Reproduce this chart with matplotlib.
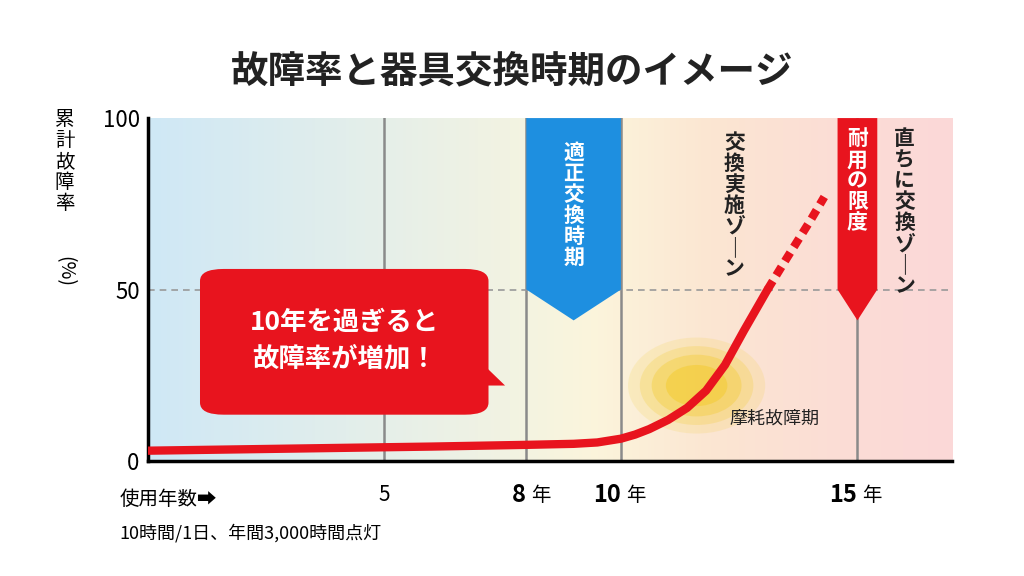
import matplotlib.pyplot as plt
import numpy as np
from matplotlib.patches import Polygon, FancyBboxPatch, Ellipse
from matplotlib.colors import LinearSegmentedColormap

plt.rcParams['font.family'] = ['Noto Sans CJK JP', 'DejaVu Sans']

# data
years_solid = [0, 2, 4, 6, 8, 9, 9.5, 10, 10.3, 10.6, 11, 11.4, 11.8, 12.2, 12.6, 13.1]
rate_solid = [3.0, 3.4, 3.8, 4.2, 4.7, 5.0, 5.4, 6.5, 7.7, 9.3, 12.0, 15.5, 20.5, 28.0, 38.0, 50.0]
years_dot = [13.1, 13.5, 14.0, 14.3]
rate_dot = [50.0, 59.0, 70.0, 77.0]
xticks = [5, 8, 10, 15]
RED = '#e8141e'
BLUE = '#1e8fe0'

fig = plt.figure(figsize=(10.24, 5.76), dpi=100)
ax = fig.add_axes([0.1445, 0.1997, 0.7852, 0.5953])
ax.set_xlim(0, 17)
ax.set_ylim(0, 100)

# background gradient
cmap = LinearSegmentedColormap.from_list('bg', [
    (0.0, '#cfe8f6'), (0.45, '#f2f3e2'), (0.55, '#fbf5dc'),
    (0.7, '#fbe6d2'), (0.88, '#fbdcd6'), (1.0, '#fbd8d8')])
ax.imshow(np.linspace(0, 1, 256)[None, :], extent=[0, 17, 0, 100], aspect='auto',
          cmap=cmap, zorder=0)

for x in xticks:
    ax.axvline(x, color='#8a8a8a', lw=1.8, zorder=1)
ax.axhline(50, color='#999999', lw=1.2, ls=(0, (4, 3)), zorder=1)

# wear glow
for w, h, a in [(2.9, 28, 0.12), (2.4, 23, 0.18), (1.9, 18, 0.25), (1.3, 12, 0.3)]:
    ax.add_patch(Ellipse((11.6, 22), w, h, color='#f2c400', alpha=a, lw=0, zorder=2))
ax.text(12.3, 11, '摩耗故障期', fontsize=13, color='#222222', zorder=5)

ax.plot(years_solid, rate_solid, color=RED, lw=6, solid_capstyle='round', zorder=4)
ax.plot(years_dot, rate_dot, color=RED, lw=6, ls=(0, (1.2, 0.8)), zorder=4)

# banners
ax.add_patch(Polygon([[8, 100], [10, 100], [10, 50], [9, 41], [8, 50]], closed=True,
                     color=BLUE, lw=0, zorder=3))
ax.text(9, 93, '\n'.join('適正交換時期'), color='white', fontsize=15, fontweight='bold',
        ha='center', va='top', linespacing=1.0, zorder=5)
ax.add_patch(Polygon([[14.58, 100], [15.42, 100], [15.42, 50], [15, 41], [14.58, 50]],
                     closed=True, color=RED, lw=0, zorder=3))
ax.text(15, 97, '\n'.join('耐用の限度'), color='white', fontsize=15, fontweight='bold',
        ha='center', va='top', linespacing=1.0, zorder=5)
ax.text(12.4, 96, '\n'.join(['交', '換', '実', '施', 'ゾ', '｜', 'ン']), color='#222222',
        fontsize=15, fontweight='bold', ha='center', va='top', linespacing=1.0, zorder=5)
ax.text(16.0, 97, '\n'.join(['直', 'ち', 'に', '交', '換', 'ゾ', '｜', 'ン']), color='#222222',
        fontsize=15, fontweight='bold', ha='center', va='top', linespacing=1.0, zorder=5)

# speech bubble
ax.add_patch(FancyBboxPatch((1.1, 13.5), 6.1, 42.5, boxstyle='round,pad=0,rounding_size=0.5',
                            mutation_aspect=7, color=RED, lw=0, zorder=5))
ax.add_patch(Polygon([[7.1, 28], [7.55, 22], [7.1, 22]], closed=True, color=RED, lw=0, zorder=5))
ax.text(4.15, 35, '10年を過ぎると\n故障率が増加！', color='white', fontsize=19,
        fontweight='bold', ha='center', va='center', linespacing=1.45, zorder=6)

ax.set_xticks([])
ax.set_yticks([0, 50, 100])
ax.set_yticklabels(['0', '50', '100'], fontsize=16)
ax.tick_params(axis='y', length=0, pad=6)
for s in ['top', 'right']:
    ax.spines[s].set_visible(False)
ax.spines['left'].set_linewidth(2.5)
ax.spines['bottom'].set_linewidth(2.5)

# x labels
tr = ax.get_xaxis_transform()
ax.text(5, -0.1, '5', transform=tr, fontsize=15, ha='center', va='center')
for x in [8, 10, 15]:
    ax.text(x, -0.1, f'{x}', transform=tr, fontsize=17, fontweight='bold',
            ha='right', va='center')
    ax.text(x + 0.1, -0.1, '年', transform=tr, fontsize=14, ha='left', va='center')
fig.text(0.117, 0.133, '使用年数➡', fontsize=14, ha='left', va='center')
fig.text(0.117, 0.075, '10時間/1日、年間3,000時間点灯', fontsize=13, ha='left', va='center')
fig.text(0.063, 0.81, '\n'.join('累計故障率'), fontsize=14, ha='center', va='top',
         linespacing=1.0)
fig.text(0.063, 0.555, '(%)', fontsize=14, ha='center', va='top', rotation=-90)

fig.text(0.5, 0.875, '故障率と器具交換時期のイメージ', fontsize=27, fontweight='bold',
         ha='center', va='center', color='#222222')

fig.savefig('out.png', dpi=100)
